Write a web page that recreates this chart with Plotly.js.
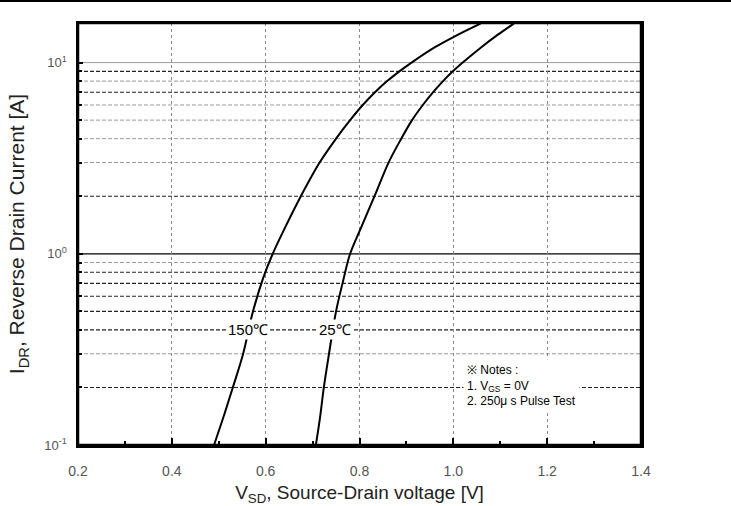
<!DOCTYPE html>
<html>
<head>
<meta charset="utf-8">
<script src="https://cdn.plot.ly/plotly-3.0.1.min.js"></script>
<style>
html,body{margin:0;padding:0;background:#fff;}
#chart{width:731px;height:506px;position:absolute;left:0;top:0;}
#topline{position:absolute;left:0;top:0;width:731px;height:2px;background:#000;z-index:5;}
</style>
</head>
<body>
<div id="chart"></div>
<div id="topline"></div>
<script>
// Source-drain voltage [V] and reverse drain current [A]
var v150 = [0.490,0.510,0.530,0.552,0.573,0.595,0.615,0.640,0.675,0.715,0.750,0.780,0.807,0.833,0.859,0.885,0.911,0.960,1.010,1.058];
var i150 = [0.10,0.14,0.20,0.30,0.50,0.75,1.0,1.35,2.0,3.0,4.0,5.0,6.0,7.0,8.0,9.0,10,12,14,16];
var v25  = [0.707,0.716,0.724,0.735,0.750,0.765,0.780,0.805,0.832,0.862,0.889,0.912,0.935,0.957,0.978,0.999,1.020,1.059,1.095,1.129];
var i25  = [0.10,0.14,0.20,0.30,0.50,0.72,1.0,1.4,2.0,3.0,4.0,5.0,6.0,7.0,8.0,9.0,10,12,14,16];

var curveLabels = ['150℃','25℃'];
var labelV = [0.562,0.748];
var labelI = [0.40,0.40];

var xTicks = [0.2,0.4,0.6,0.8,1.0,1.2,1.4];
var xTickText = ['0.2','0.4','0.6','0.8','1.0','1.2','1.4'];
var yTicks = [0.1,1,10];
var yTickText = ['10<sup>-1</sup>','10<sup>0</sup>','10<sup>1</sup>'];
var yMinorTicks = [0.2,0.3,0.4,0.5,0.6,0.7,0.8,0.9,2,3,4,5,6,7,8,9];

// horizontal grid levels
var gridDark = [0.2,0.4,0.5,0.6,0.7,0.8,2,7,9];
var gridLight = [0.3,0.9,3,4,5,6,8];
var gridSolidGray = [10];
var gridSolidBlack = [1];

var notesText = '※ Notes :<br>1. V<sub>GS</sub> = 0V<br>2. 250μ s Pulse Test';

var FONT = 'Liberation Sans Narrow, Arial Narrow, Liberation Sans, Arial, sans-serif';

var shapes = [];
function hline(v, color, dash, width){
  shapes.push({type:'line', xref:'paper', x0:0, x1:1, yref:'y', y0:v, y1:v,
    line:{color:color, width:width, dash:dash}, layer:'below'});
}
gridDark.forEach(function(v){hline(v,'#222','4px,2px',1.1);});
gridLight.forEach(function(v){hline(v,'#999','4px,2px',1);});
gridSolidGray.forEach(function(v){hline(v,'#999','solid',1);});
gridSolidBlack.forEach(function(v){hline(v,'#000','solid',1.3);});
shapes.push({type:'rect', xref:'paper', yref:'paper', x0:0, x1:1, y0:0, y1:1,
  line:{color:'#000', width:2.5}, layer:'above'});

var traces = [
  {x:v150, y:i150, mode:'lines', line:{color:'#000', width:2, shape:'spline', smoothing:1}, hoverinfo:'none', showlegend:false},
  {x:v25, y:i25, mode:'lines', line:{color:'#000', width:2, shape:'spline', smoothing:1}, hoverinfo:'none', showlegend:false}
];

var annotations = curveLabels.map(function(t,k){
  return {x:labelV[k], y:Math.log10(labelI[k]), xref:'x', yref:'y', text:t, showarrow:false,
    font:{family:FONT, size:15, color:'#000'}, bgcolor:'#fff', borderpad:1};
});
annotations.push({x:1.02, y:Math.log10(0.205), xref:'x', yref:'y', text:notesText, showarrow:false,
  xanchor:'left', yanchor:'middle', align:'left', font:{family:FONT, size:12, color:'#000'},
  bgcolor:'#fff', borderpad:3});

var layout = {
  width:731, height:506,
  margin:{l:78, r:90, t:23, b:61},
  paper_bgcolor:'#fff', plot_bgcolor:'#fff',
  showlegend:false,
  xaxis:{
    range:[0.2,1.4], tickvals:xTicks, ticktext:xTickText,
    ticks:'inside', ticklen:7, tickwidth:2, tickcolor:'#000',
    showline:true, linecolor:'#000', linewidth:2.5, mirror:true,
    showgrid:true, gridcolor:'#888', griddash:'dot', gridwidth:1,
    zeroline:false,
    minor:{ticks:'inside', ticklen:4, tickwidth:2, tickcolor:'#000', dtick:0.1, showgrid:false},
    tickfont:{family:FONT, size:14, color:'#555'},
    ticklabelstandoff:12,
    title:{text:'V<sub>SD</sub>, Source-Drain voltage [V]', font:{family:FONT, size:19, color:'#222'}, standoff:8}
  },
  yaxis:{
    type:'log', range:[-1, 1.207], tickvals:yTicks, ticktext:yTickText,
    ticks:'inside', ticklen:5, tickwidth:2, tickcolor:'#000',
    showline:true, linecolor:'#000', linewidth:2.5, mirror:true,
    showgrid:false, zeroline:false,
    minor:{tickmode:'array', tickvals:yMinorTicks, ticks:'inside', ticklen:4, tickwidth:2, tickcolor:'#000', showgrid:false},
    tickfont:{family:FONT, size:13, color:'#555'},
    ticklabelstandoff:6,
    title:{text:'I<sub>DR</sub>, Reverse Drain Current [A]', font:{family:FONT, size:21, color:'#222'}, standoff:14}
  },
  shapes:shapes,
  annotations:annotations
};

Plotly.newPlot('chart', traces, layout, {staticPlot:true, displayModeBar:false});
</script>
</body>
</html>
